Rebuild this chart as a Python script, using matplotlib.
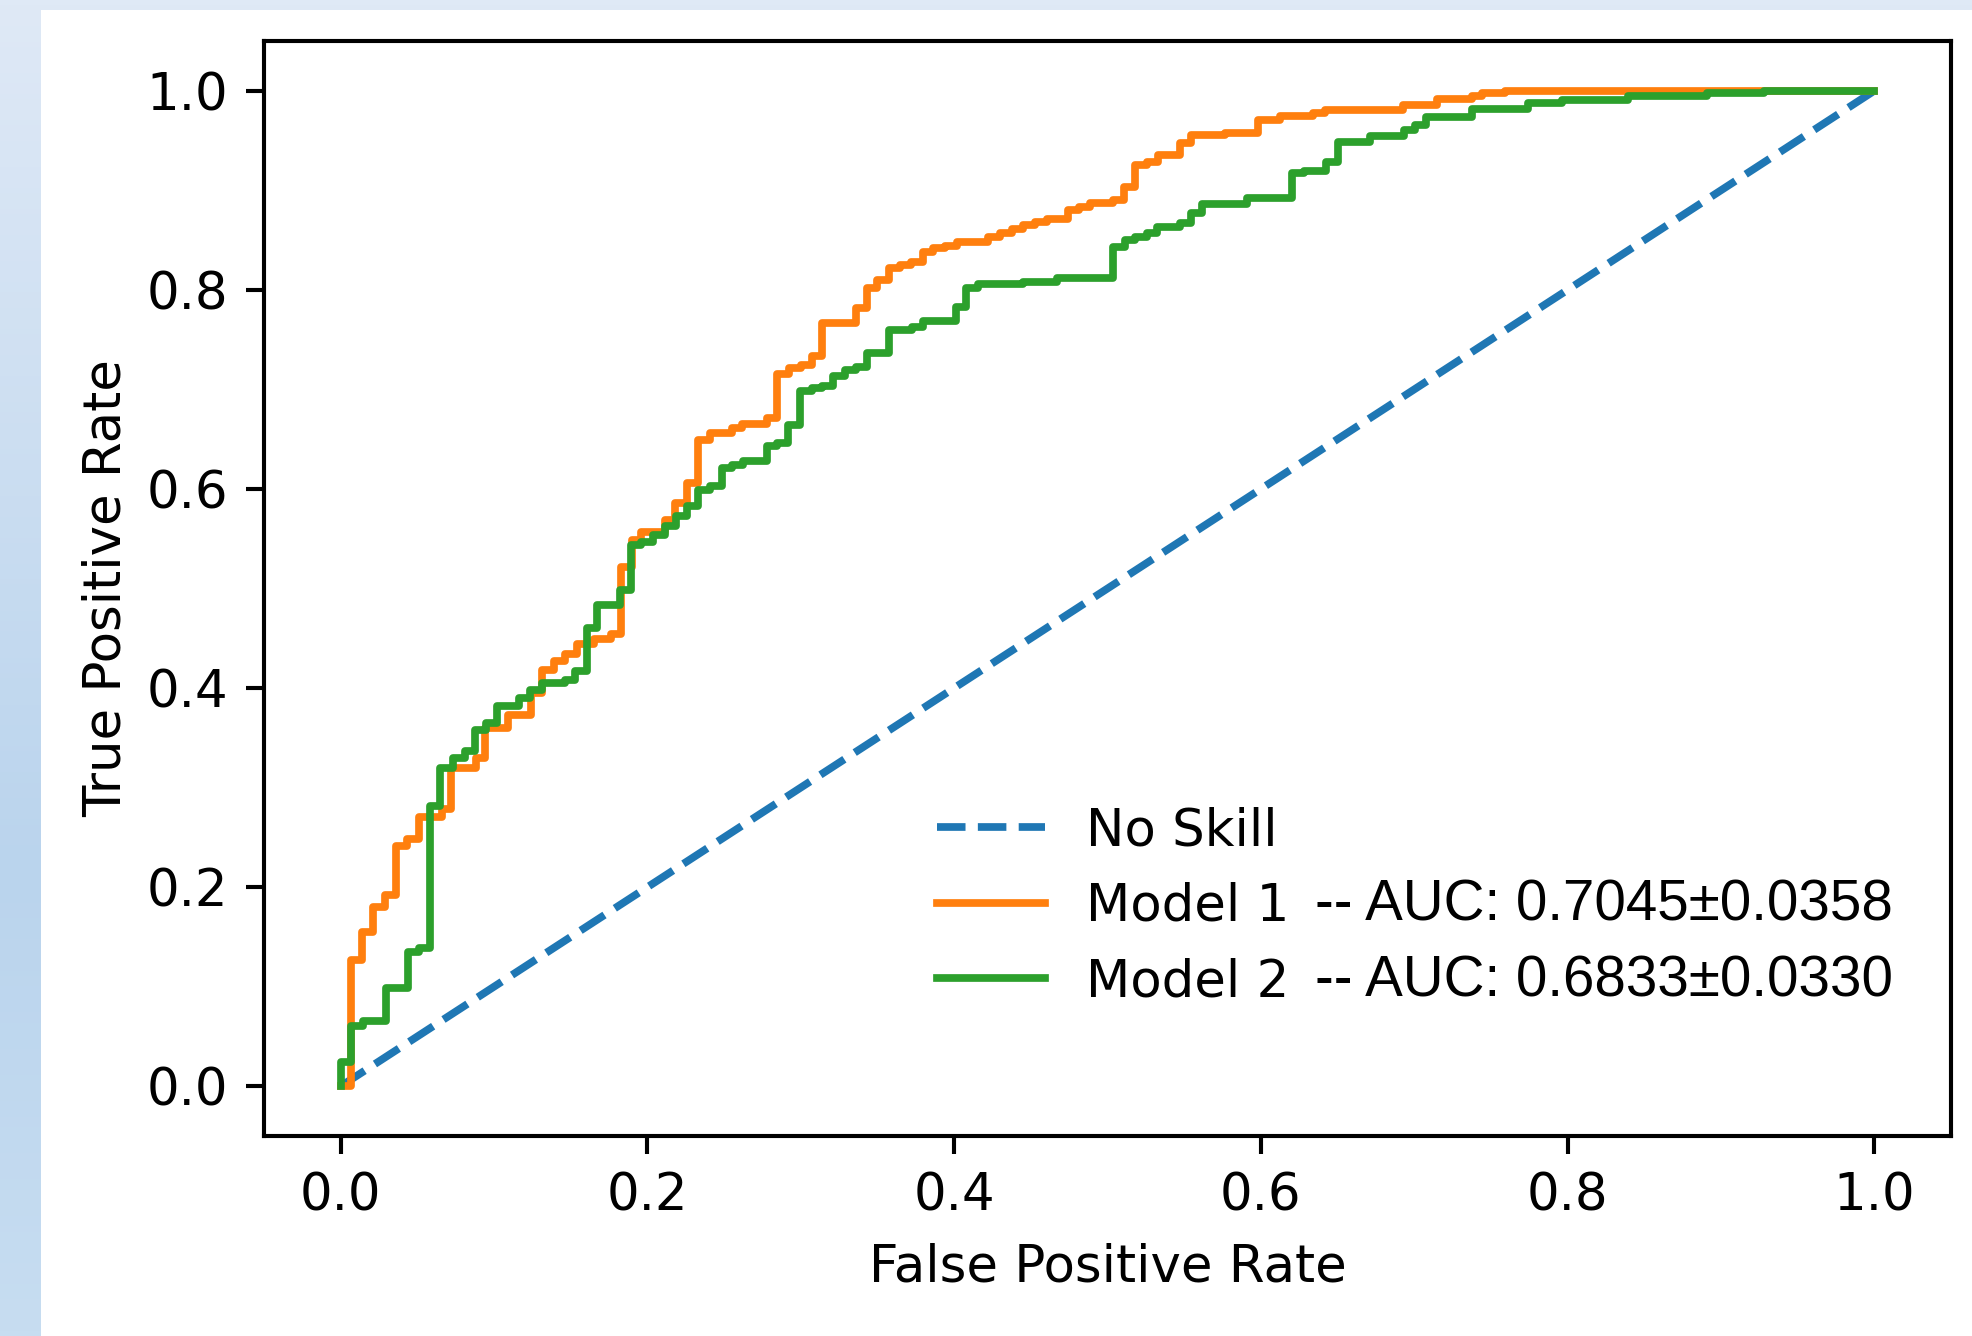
import numpy as np
import matplotlib
matplotlib.use("Agg")
import matplotlib.pyplot as plt
from matplotlib.colors import LinearSegmentedColormap

# ---- data (step corners of the ROC curves: jump at x up to y) ----
m1_fpr = [0, 0.007, 0.014, 0.021, 0.029, 0.036, 0.043, 0.051, 0.066, 0.072,
          0.088, 0.094, 0.109, 0.124, 0.131, 0.139, 0.146, 0.154, 0.165, 0.176,
          0.183, 0.190, 0.196, 0.2115, 0.218, 0.2255, 0.233, 0.241, 0.255, 0.262,
          0.278, 0.2845, 0.292, 0.300, 0.307, 0.3136, 0.336, 0.343, 0.350, 0.3576,
          0.365, 0.372, 0.3796, 0.386, 0.394, 0.4017, 0.422, 0.430, 0.4376, 0.445,
          0.4528, 0.4604, 0.4743, 0.4815, 0.4887, 0.5038, 0.511, 0.518, 0.5257, 0.533,
          0.5474, 0.5544, 0.5767, 0.598, 0.6126, 0.634, 0.642, 0.693, 0.7147, 0.7376,
          0.744, 0.759, 1.0]
m1_tpr = [0, 0.127, 0.155, 0.180, 0.192, 0.241, 0.248, 0.270, 0.278, 0.320,
          0.330, 0.360, 0.373, 0.395, 0.418, 0.427, 0.434, 0.444, 0.449, 0.454,
          0.522, 0.549, 0.557, 0.569, 0.586, 0.606, 0.649, 0.656, 0.661, 0.665,
          0.671, 0.715, 0.722, 0.725, 0.734, 0.767, 0.782, 0.802, 0.810, 0.822,
          0.825, 0.828, 0.8385, 0.842, 0.8445, 0.848, 0.8535, 0.857, 0.861, 0.865,
          0.8685, 0.871, 0.880, 0.8836, 0.887, 0.890, 0.903, 0.925, 0.9287, 0.9355,
          0.9478, 0.9555, 0.958, 0.971, 0.9746, 0.978, 0.981, 0.9856, 0.9913, 0.995,
          0.9973, 1.0, 1.0]

m2_fpr = [0, 0, 0.007, 0.0143, 0.0295, 0.044, 0.051, 0.058, 0.065, 0.0733,
          0.081, 0.0876, 0.0948, 0.1017, 0.1163, 0.1235, 0.131, 0.146, 0.1528, 0.1604,
          0.167, 0.182, 0.189, 0.196, 0.2037, 0.2115, 0.2187, 0.2256, 0.233, 0.2409,
          0.2485, 0.255, 0.2624, 0.2778, 0.2845, 0.2917, 0.2996, 0.307, 0.3136, 0.321,
          0.3289, 0.336, 0.343, 0.3576, 0.3723, 0.3796, 0.4013, 0.408, 0.4158, 0.445,
          0.4668, 0.5038, 0.5115, 0.518, 0.5256, 0.5326, 0.5474, 0.5544, 0.5615, 0.5907,
          0.620, 0.628, 0.6426, 0.650, 0.6713, 0.6935, 0.7006, 0.7078, 0.7376, 0.7745,
          0.7963, 0.8396, 0.8908, 0.9278, 1.0]
m2_tpr = [0, 0.024, 0.0605, 0.0655, 0.099, 0.1345, 0.1385, 0.2813, 0.320, 0.330,
          0.3366, 0.3583, 0.365, 0.3817, 0.390, 0.3985, 0.4055, 0.4085, 0.417, 0.4604,
          0.4838, 0.4988, 0.544, 0.547, 0.554, 0.5624, 0.5724, 0.5825, 0.599, 0.6025,
          0.621, 0.624, 0.6276, 0.6427, 0.6464, 0.6645, 0.698, 0.701, 0.703, 0.713,
          0.7197, 0.723, 0.737, 0.7598, 0.7631, 0.769, 0.7832, 0.8023, 0.8057, 0.808,
          0.8117, 0.8434, 0.850, 0.8535, 0.8569, 0.8629, 0.867, 0.877, 0.8863, 0.892,
          0.917, 0.919, 0.9287, 0.9488, 0.9545, 0.9606, 0.9655, 0.974, 0.9813, 0.9873,
          0.9907, 0.9947, 0.9973, 1.0, 1.0]

ns_fpr = [0, 1]
ns_tpr = [0, 1]

labels = ["No Skill", "Model 1", "Model 2"]
auc_texts = ["", "-- AUC: 0.7045\u00b10.0358", "-- AUC: 0.6833\u00b10.0330"]

# ---- figure ----
W, H, DPI = 1972, 1336, 370
fig = plt.figure(figsize=(W / DPI, H / DPI), dpi=DPI)

# light-blue screenshot backdrop with gradient
bg = fig.add_axes([0, 0, 1, 1], zorder=-10)
cmap = LinearSegmentedColormap.from_list(
    "bg", [(0.0, "#dfe9f6"), (0.65, "#bad4ed"), (1.0, "#c7ddf1")])
grad = np.linspace(0, 1, 256).reshape(-1, 1)
bg.imshow(grad, aspect="auto", cmap=cmap, extent=[0, 1, 0, 1], origin="upper")
bg.add_patch(plt.Rectangle((41 / W, 0), 1 - 41 / W, 1 - 10 / H,
                           facecolor="white", edgecolor="none",
                           transform=bg.transAxes))
bg.set_xlim(0, 1)
bg.set_ylim(0, 1)
bg.axis("off")

left, right = 264 / W, 1951 / W
bottom, top = 1 - 1136 / H, 1 - 41 / H
ax = fig.add_axes([left, bottom, right - left, top - bottom])

ax.plot(ns_fpr, ns_tpr, linestyle="--", color="C0", label=labels[0])
ax.plot(m1_fpr, m1_tpr, drawstyle="steps-post", color="C1", label=labels[1])
ax.plot(m2_fpr, m2_tpr, drawstyle="steps-post", color="C2", label=labels[2])

ax.set_xlim(-0.05, 1.05)
ax.set_ylim(-0.05, 1.05)
ax.set_xticks([0.0, 0.2, 0.4, 0.6, 0.8, 1.0])
ax.set_yticks([0.0, 0.2, 0.4, 0.6, 0.8, 1.0])
ax.set_xlabel("False Positive Rate")
ax.set_ylabel("True Positive Rate", labelpad=2.8)

leg = ax.legend(loc="center left", bbox_to_anchor=(0.3715, 0.2094),
                frameon=False, handlelength=2.1)

# AUC part of the labels, set in an Arial-like face after the model name
fig.canvas.draw()
for t, extra in zip(leg.get_texts(), auc_texts):
    if not extra:
        continue
    bx, by = t.get_transform().transform(t.get_position())
    x1 = t.get_window_extent().x1
    fig.text((x1 + 26) / W, by / H, extra, fontsize=11.0,
             family="Liberation Sans", ha="left", va="baseline")

fig.savefig("out.png", dpi=DPI)
